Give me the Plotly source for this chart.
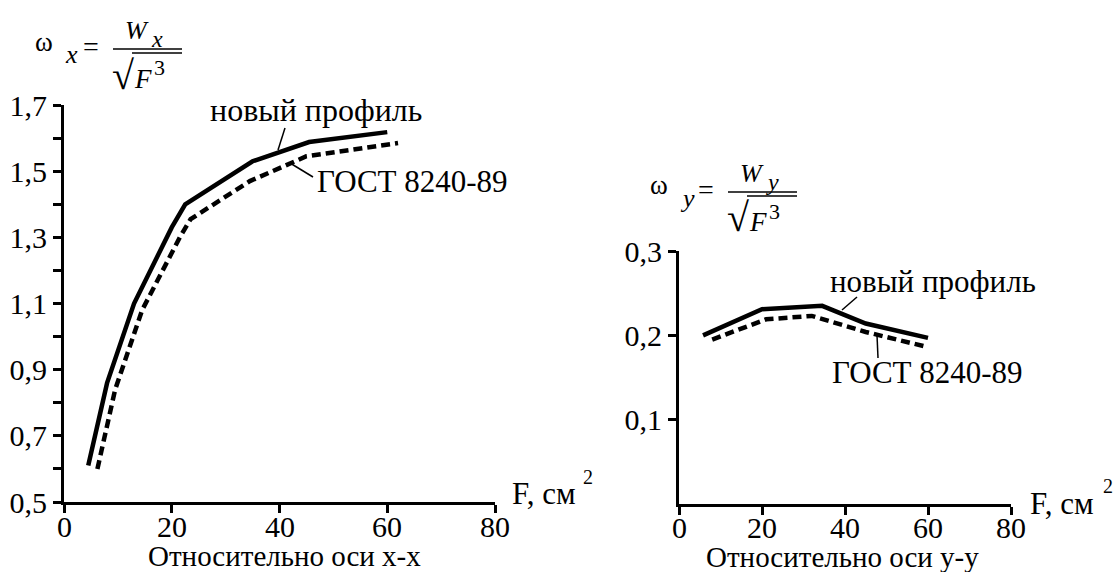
import plotly.graph_objects as go

# ---- data ----
F_new_x = [4.5, 8, 13, 20, 22.5, 35, 45.5, 60]
w_new_x = [0.61, 0.86, 1.10, 1.33, 1.40, 1.53, 1.588, 1.618]
F_gost_x = [6.2, 9.5, 14.5, 21.5, 23.5, 34.5, 45, 62]
w_gost_x = [0.60, 0.84, 1.08, 1.30, 1.355, 1.47, 1.545, 1.585]

F_new_y = [5.8, 20, 34.5, 45, 60]
w_new_y = [0.200, 0.231, 0.235, 0.214, 0.197]
F_gost_y = [8, 21, 32, 45, 60]
w_gost_y = [0.195, 0.219, 0.223, 0.204, 0.186]

x_ticks = [0, 20, 40, 60, 80]
x_ticktext = ["0", "20", "40", "60", "80"]
yl_ticks = [0.5, 0.6, 0.7, 0.8, 0.9, 1.0, 1.1, 1.2, 1.3, 1.4, 1.5, 1.6, 1.7]
yl_ticktext = ["0,5", "", "0,7", "", "0,9", "", "1,1", "", "1,3", "", "1,5", "", "1,7"]
yr_ticks = [0.1, 0.2, 0.3]
yr_ticktext = ["0,1", "0,2", "0,3"]

W, H = 1120, 572
FONT = "Liberation Serif, Times New Roman, DejaVu Serif, serif"


def px(x, y):
    return x / W, 1 - y / H


fig = go.Figure()
fig.add_trace(go.Scatter(x=F_new_x, y=w_new_x, mode="lines", xaxis="x", yaxis="y",
                         line=dict(color="black", width=4.5), showlegend=False))
fig.add_trace(go.Scatter(x=F_gost_x, y=w_gost_x, mode="lines", xaxis="x", yaxis="y",
                         line=dict(color="black", width=4.5, dash="9px,5px"), showlegend=False))
fig.add_trace(go.Scatter(x=F_new_y, y=w_new_y, mode="lines", xaxis="x2", yaxis="y2",
                         line=dict(color="black", width=4.5), showlegend=False))
fig.add_trace(go.Scatter(x=F_gost_y, y=w_gost_y, mode="lines", xaxis="x2", yaxis="y2",
                         line=dict(color="black", width=4.5, dash="9px,5px"), showlegend=False))

axis_common = dict(showline=True, linewidth=3, linecolor="black", ticks="outside",
                   ticklen=8, tickwidth=2.5, tickcolor="black", showgrid=False,
                   zeroline=False, tickfont=dict(family=FONT, size=30, color="black"),
                   fixedrange=True, automargin=False)

fig.update_layout(
    width=W, height=H, margin=dict(l=0, r=0, t=0, b=0, autoexpand=False),
    paper_bgcolor="white", plot_bgcolor="white",
    xaxis=dict(domain=[64 / W, 495 / W], range=[0, 80], tickvals=x_ticks,
               showticklabels=False, anchor="y", **axis_common),
    yaxis=dict(domain=[1 - 502 / H, 1 - 105 / H], range=[0.5, 1.7], tickvals=yl_ticks,
               ticktext=yl_ticktext, anchor="x", **axis_common),
    xaxis2=dict(domain=[679 / W, 1011 / W], range=[0, 80], tickvals=x_ticks,
                showticklabels=False, anchor="y2", **axis_common),
    yaxis2=dict(domain=[1 - 504 / H, 1 - 251 / H], range=[0, 0.3], tickvals=yr_ticks,
                ticktext=yr_ticktext, anchor="x2", **axis_common),
)

annots = []
shapes = []


def text(x, y, s, size=28, xanchor="left", yanchor="middle", italic=False):
    X, Y = px(x, y)
    if italic:
        s = "<i>" + s + "</i>"
    annots.append(dict(x=X, y=Y, xref="paper", yref="paper", text=s, showarrow=False,
                       xanchor=xanchor, yanchor=yanchor,
                       font=dict(family=FONT, size=size, color="black")))


def line(x0, y0, x1, y1, w=1.5):
    X0, Y0 = px(x0, y0)
    X1, Y1 = px(x1, y1)
    shapes.append(dict(type="line", xref="paper", yref="paper", x0=X0, y0=Y0, x1=X1, y1=Y1,
                       line=dict(color="black", width=w)))


# x tick labels placed on the axes' own data scale
for xr, ypx in (("x", 526), ("x2", 527)):
    for v, t in zip(x_ticks, x_ticktext):
        annots.append(dict(x=v, y=1 - ypx / H, xref=xr, yref="paper", text=t,
                           showarrow=False, xanchor="center", yanchor="middle",
                           font=dict(family=FONT, size=30, color="black")))

# curve labels
text(208, 110, "новый профиль", 32)
line(285, 128, 278, 150)
text(315, 182, "ГОСТ 8240-89", 31)
line(313, 177, 290, 163)

text(828, 281, "новый профиль", 31)
line(857, 297, 842, 310)
text(830, 372, "ГОСТ 8240-89", 31)
line(877, 335, 878, 358)

# axis titles
text(510, 493, "F, см", 31)
text(581, 477, "2", 20)
text(1028, 503, "F, см", 31)
text(1101, 486, "2", 20)
text(284, 556, "Относительно оси х-х", 29, xanchor="center")
text(842, 557, "Относительно оси у-у", 29, xanchor="center")


def formula(ox, oy, sub):
    # ox, oy: pixel position of fraction bar left end
    text(ox - 80, oy - 7, "ω", 27)
    text(ox - 50, oy + 6, sub, 26, italic=True)
    text(ox - 32, oy - 3, "=", 28)
    line(ox, oy, ox + 69, oy, 1.6)
    text(ox + 10, oy - 19, "W", 26, italic=True)
    text(ox + 36, oy - 10, sub, 24, italic=True)
    text(ox - 3, oy + 26, "√", 40)
    line(ox + 19, oy + 4, ox + 69, oy + 4, 1.6)
    text(ox + 19, oy + 30, "F", 27, italic=True)
    text(ox + 39, oy + 19, "3", 22)


formula(113, 49, "x")
formula(728, 192, "y")

fig.update_layout(annotations=annots, shapes=shapes)
fig.write_html("out.html", config={"displayModeBar": False},
               post_script="document.body.style.margin='0';document.body.style.overflow='hidden';")
